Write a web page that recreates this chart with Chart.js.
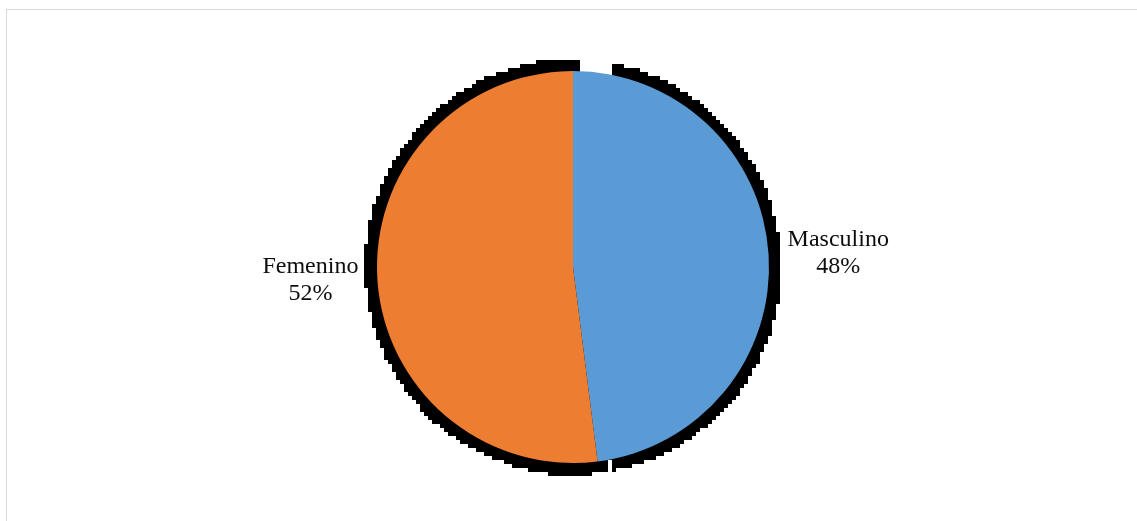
<!DOCTYPE html>
<html>
<head>
<meta charset="utf-8">
<script src="https://cdn.jsdelivr.net/npm/chart.js@4/dist/chart.umd.min.js"></script>
<style>
  html, body { margin: 0; padding: 0; background: #ffffff; overflow: hidden; }
  #wrap { position: relative; width: 1137px; height: 521px; overflow: hidden; }
  #frame {
    position: absolute; left: 6px; top: 9px; width: 1200px; height: 600px;
    border-left: 1px solid #d9d9d9; border-top: 1px solid #d9d9d9;
  }
  #chart { position: absolute; left: 0; top: 0; }
</style>
</head>
<body>
<div id="wrap">
  <div id="frame"></div>
  <canvas id="chart" width="1137" height="521"></canvas>
</div>
<script>
// Gender split of respondents
const categories = ['Masculino', 'Femenino'];
const percentages = [48, 52];
const sliceColors = ['#5B9BD5', '#ED7D31'];

// Angular trim (degrees) of each slice's drop shadow at its start / end edge
const shadowTrim = [[11, -3.8], [-2.8, 2.4]];
const SHADOW_EXTRA = 12;   // shadow reaches this far beyond the pie rim
const SHADOW_PIXEL = 4;    // coarse grid the shadow is rasterised on

const deg = Math.PI / 180;

const pieShadow = {
  id: 'pieShadow',
  beforeDatasetsDraw(chart) {
    const meta = chart.getDatasetMeta(0);
    const W = chart.width, H = chart.height;
    const off = document.createElement('canvas');
    off.width = Math.ceil(W / SHADOW_PIXEL);
    off.height = Math.ceil(H / SHADOW_PIXEL);
    const o = off.getContext('2d');
    o.save();
    o.scale(1 / SHADOW_PIXEL, 1 / SHADOW_PIXEL);
    o.fillStyle = '#000000';
    meta.data.forEach((arc, i) => {
      const p = arc.getProps(['x', 'y', 'startAngle', 'endAngle', 'outerRadius'], true);
      const t = shadowTrim[i] || [0, 0];
      o.beginPath();
      o.moveTo(p.x, p.y);
      o.arc(p.x, p.y, p.outerRadius + SHADOW_EXTRA,
            p.startAngle + t[0] * deg, p.endAngle + t[1] * deg);
      o.closePath();
      o.fill();
    });
    o.restore();
    // hard-edged blocks: every coarse cell is either fully black or empty
    const img = o.getImageData(0, 0, off.width, off.height);
    const d = img.data;
    for (let k = 0; k < d.length; k += 4) {
      const on = d[k + 3] >= 110;
      d[k] = d[k + 1] = d[k + 2] = 0;
      d[k + 3] = on ? 255 : 0;
    }
    o.putImageData(img, 0, 0);
    const ctx = chart.ctx;
    ctx.save();
    ctx.imageSmoothingEnabled = false;
    ctx.drawImage(off, 0, 0, off.width * SHADOW_PIXEL, off.height * SHADOW_PIXEL);
    ctx.restore();
  }
};

const outsideLabels = {
  id: 'outsideLabels',
  afterDatasetsDraw(chart) {
    const meta = chart.getDatasetMeta(0);
    const ctx = chart.ctx;
    const fontSize = 24, lineH = 27;
    ctx.save();
    ctx.font = fontSize + 'px "Liberation Serif", "Times New Roman", serif';
    ctx.fillStyle = '#0d0d0d';
    ctx.textAlign = 'center';
    ctx.textBaseline = 'middle';
    meta.data.forEach((arc, i) => {
      const p = arc.getProps(['x', 'y', 'startAngle', 'endAngle', 'outerRadius'], true);
      const mid = (p.startAngle + p.endAngle) / 2;
      const dist = p.outerRadius + 19;
      const ax = p.x + Math.cos(mid) * dist;
      const ay = p.y + Math.sin(mid) * dist;
      const lines = [categories[i], percentages[i] + '%'];
      const w = Math.max(...lines.map(s => ctx.measureText(s).width));
      const cx = Math.cos(mid) >= 0 ? ax + w / 2 : ax - w / 2;
      const top = ay - (lines.length - 1) * lineH / 2;
      lines.forEach((s, k) => ctx.fillText(s, cx, top + k * lineH));
    });
    ctx.restore();
  }
};

new Chart(document.getElementById('chart'), {
  type: 'pie',
  data: {
    labels: categories,
    datasets: [{
      data: percentages,
      backgroundColor: sliceColors,
      borderWidth: 0
    }]
  },
  options: {
    responsive: false,
    devicePixelRatio: 1,
    animation: false,
    layout: { padding: { top: 71, bottom: 58, left: 9, right: 0 } },
    plugins: {
      legend: { display: false },
      tooltip: { enabled: false }
    }
  },
  plugins: [pieShadow, outsideLabels]
});
</script>
</body>
</html>
